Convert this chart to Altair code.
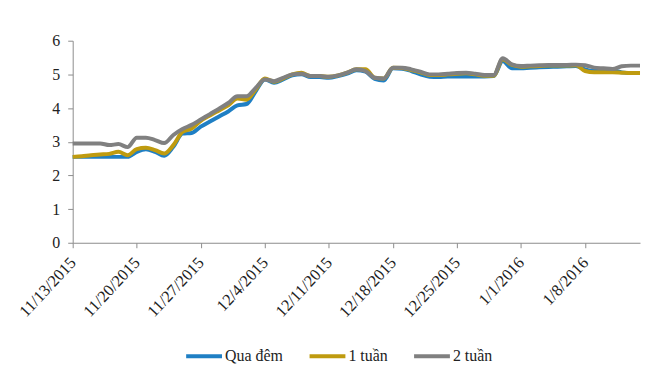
import altair as alt
import pandas as pd

# Daily dates 11/13/2015 .. 1/14/2016
dates = pd.date_range("2015-11-13", "2016-01-14", freq="D").strftime("%m/%d/%Y").tolist()

series_names = ["Qua đêm", "1 tuần", "2 tuần"]
series_colors = ["#1f7fc4", "#bf9b0f", "#808080"]

qua_dem = [2.55, 2.55, 2.55, 2.55, 2.55, 2.55, 2.55, 2.70, 2.78, 2.70,
           2.58, 2.85, 3.24, 3.26, 3.45, 3.60, 3.75, 3.90, 4.08, 4.12,
           4.50, 4.85, 4.75, 4.85, 4.97, 5.00, 4.92, 4.92, 4.90, 4.95,
           5.02, 5.12, 5.08, 4.87, 4.82, 5.18, 5.17, 5.10, 5.00, 4.93,
           4.92, 4.94, 4.94, 4.94, 4.94, 4.94, 4.95, 5.40, 5.18, 5.18,
           5.20, 5.21, 5.22, 5.23, 5.24, 5.25, 5.15, 5.10, 5.10, 5.12,
           5.06, 5.04, 5.04]

mot_tuan = [2.55, 2.57, 2.60, 2.62, 2.64, 2.70, 2.60, 2.78, 2.82, 2.75,
            2.65, 2.90, 3.29, 3.39, 3.62, 3.78, 3.93, 4.08, 4.28, 4.25,
            4.55, 4.88, 4.78, 4.88, 5.00, 5.05, 4.95, 4.95, 4.93, 4.97,
            5.05, 5.15, 5.15, 4.90, 4.88, 5.20, 5.19, 5.13, 5.06, 4.98,
            4.98, 5.00, 5.02, 5.03, 5.00, 4.96, 4.96, 5.45, 5.28, 5.23,
            5.24, 5.25, 5.26, 5.26, 5.26, 5.27, 5.10, 5.06, 5.06, 5.06,
            5.05, 5.04, 5.04]

hai_tuan = [2.95, 2.95, 2.95, 2.95, 2.90, 2.93, 2.84, 3.12, 3.12, 3.05,
            2.96, 3.20, 3.38, 3.50, 3.66, 3.82, 3.98, 4.15, 4.35, 4.35,
            4.60, 4.85, 4.80, 4.90, 5.00, 5.02, 4.95, 4.95, 4.93, 4.97,
            5.05, 5.15, 5.10, 4.90, 4.88, 5.20, 5.20, 5.15, 5.08, 5.00,
            5.00, 5.02, 5.04, 5.05, 5.02, 4.98, 4.98, 5.48, 5.30, 5.25,
            5.26, 5.27, 5.28, 5.28, 5.28, 5.29, 5.27, 5.20, 5.18, 5.16,
            5.24, 5.26, 5.26]

rows = []
for name, vals in zip(series_names, [qua_dem, mot_tuan, hai_tuan]):
    for d, v in zip(dates, vals):
        rows.append({"date": d, "value": v, "series": name})
df = pd.DataFrame(rows)

tick_dates = [alt.DateTime(year=2015, month=11, date=13),
              alt.DateTime(year=2015, month=11, date=20),
              alt.DateTime(year=2015, month=11, date=27),
              alt.DateTime(year=2015, month=12, date=4),
              alt.DateTime(year=2015, month=12, date=11),
              alt.DateTime(year=2015, month=12, date=18),
              alt.DateTime(year=2015, month=12, date=25),
              alt.DateTime(year=2016, month=1, date=1),
              alt.DateTime(year=2016, month=1, date=8)]

font = "Liberation Serif"

chart = alt.Chart(df).mark_line(strokeWidth=4, interpolate="monotone").encode(
    x=alt.X("date:T",
            scale=alt.Scale(domain=[alt.DateTime(year=2015, month=11, date=13),
                                    alt.DateTime(year=2016, month=1, date=14)],
                            nice=False),
            axis=alt.Axis(title=None, values=tick_dates, format="%-m/%-d/%Y",
                          labelAngle=-47, labelAlign="right", labelBaseline="middle",
                          labelFont=font, labelFontSize=16.5, labelColor="#222",
                          domainColor="#8c8c8c", tickColor="#8c8c8c", tickSize=5,
                          grid=False, labelPadding=12)),
    y=alt.Y("value:Q",
            scale=alt.Scale(domain=[0, 6], nice=False),
            axis=alt.Axis(title=None, values=[0, 1, 2, 3, 4, 5, 6],
                          labelFont=font, labelFontSize=16, labelColor="#222",
                          domainColor="#8c8c8c", tickColor="#8c8c8c", tickSize=5,
                          grid=False, labelPadding=8)),
    color=alt.Color("series:N",
                    scale=alt.Scale(domain=series_names, range=series_colors),
                    sort=series_names,
                    legend=alt.Legend(title=None, orient="none", legendX=112, legendY=297,
                                      direction="horizontal", symbolType="stroke",
                                      symbolStrokeWidth=4, symbolSize=1296,
                                      labelFont=font, labelFontSize=16, labelColor="#222",
                                      columnPadding=18, labelOffset=1)),
    order=alt.Order("series:N"),
).properties(
    width=570, height=203,
    autosize=alt.AutoSizeParams(type="none"),
    padding={"left": 65, "top": 32, "right": 2, "bottom": 130},
).configure_view(stroke=None)

chart.save("out.html", embed_options={"renderer": "svg", "actions": False})
